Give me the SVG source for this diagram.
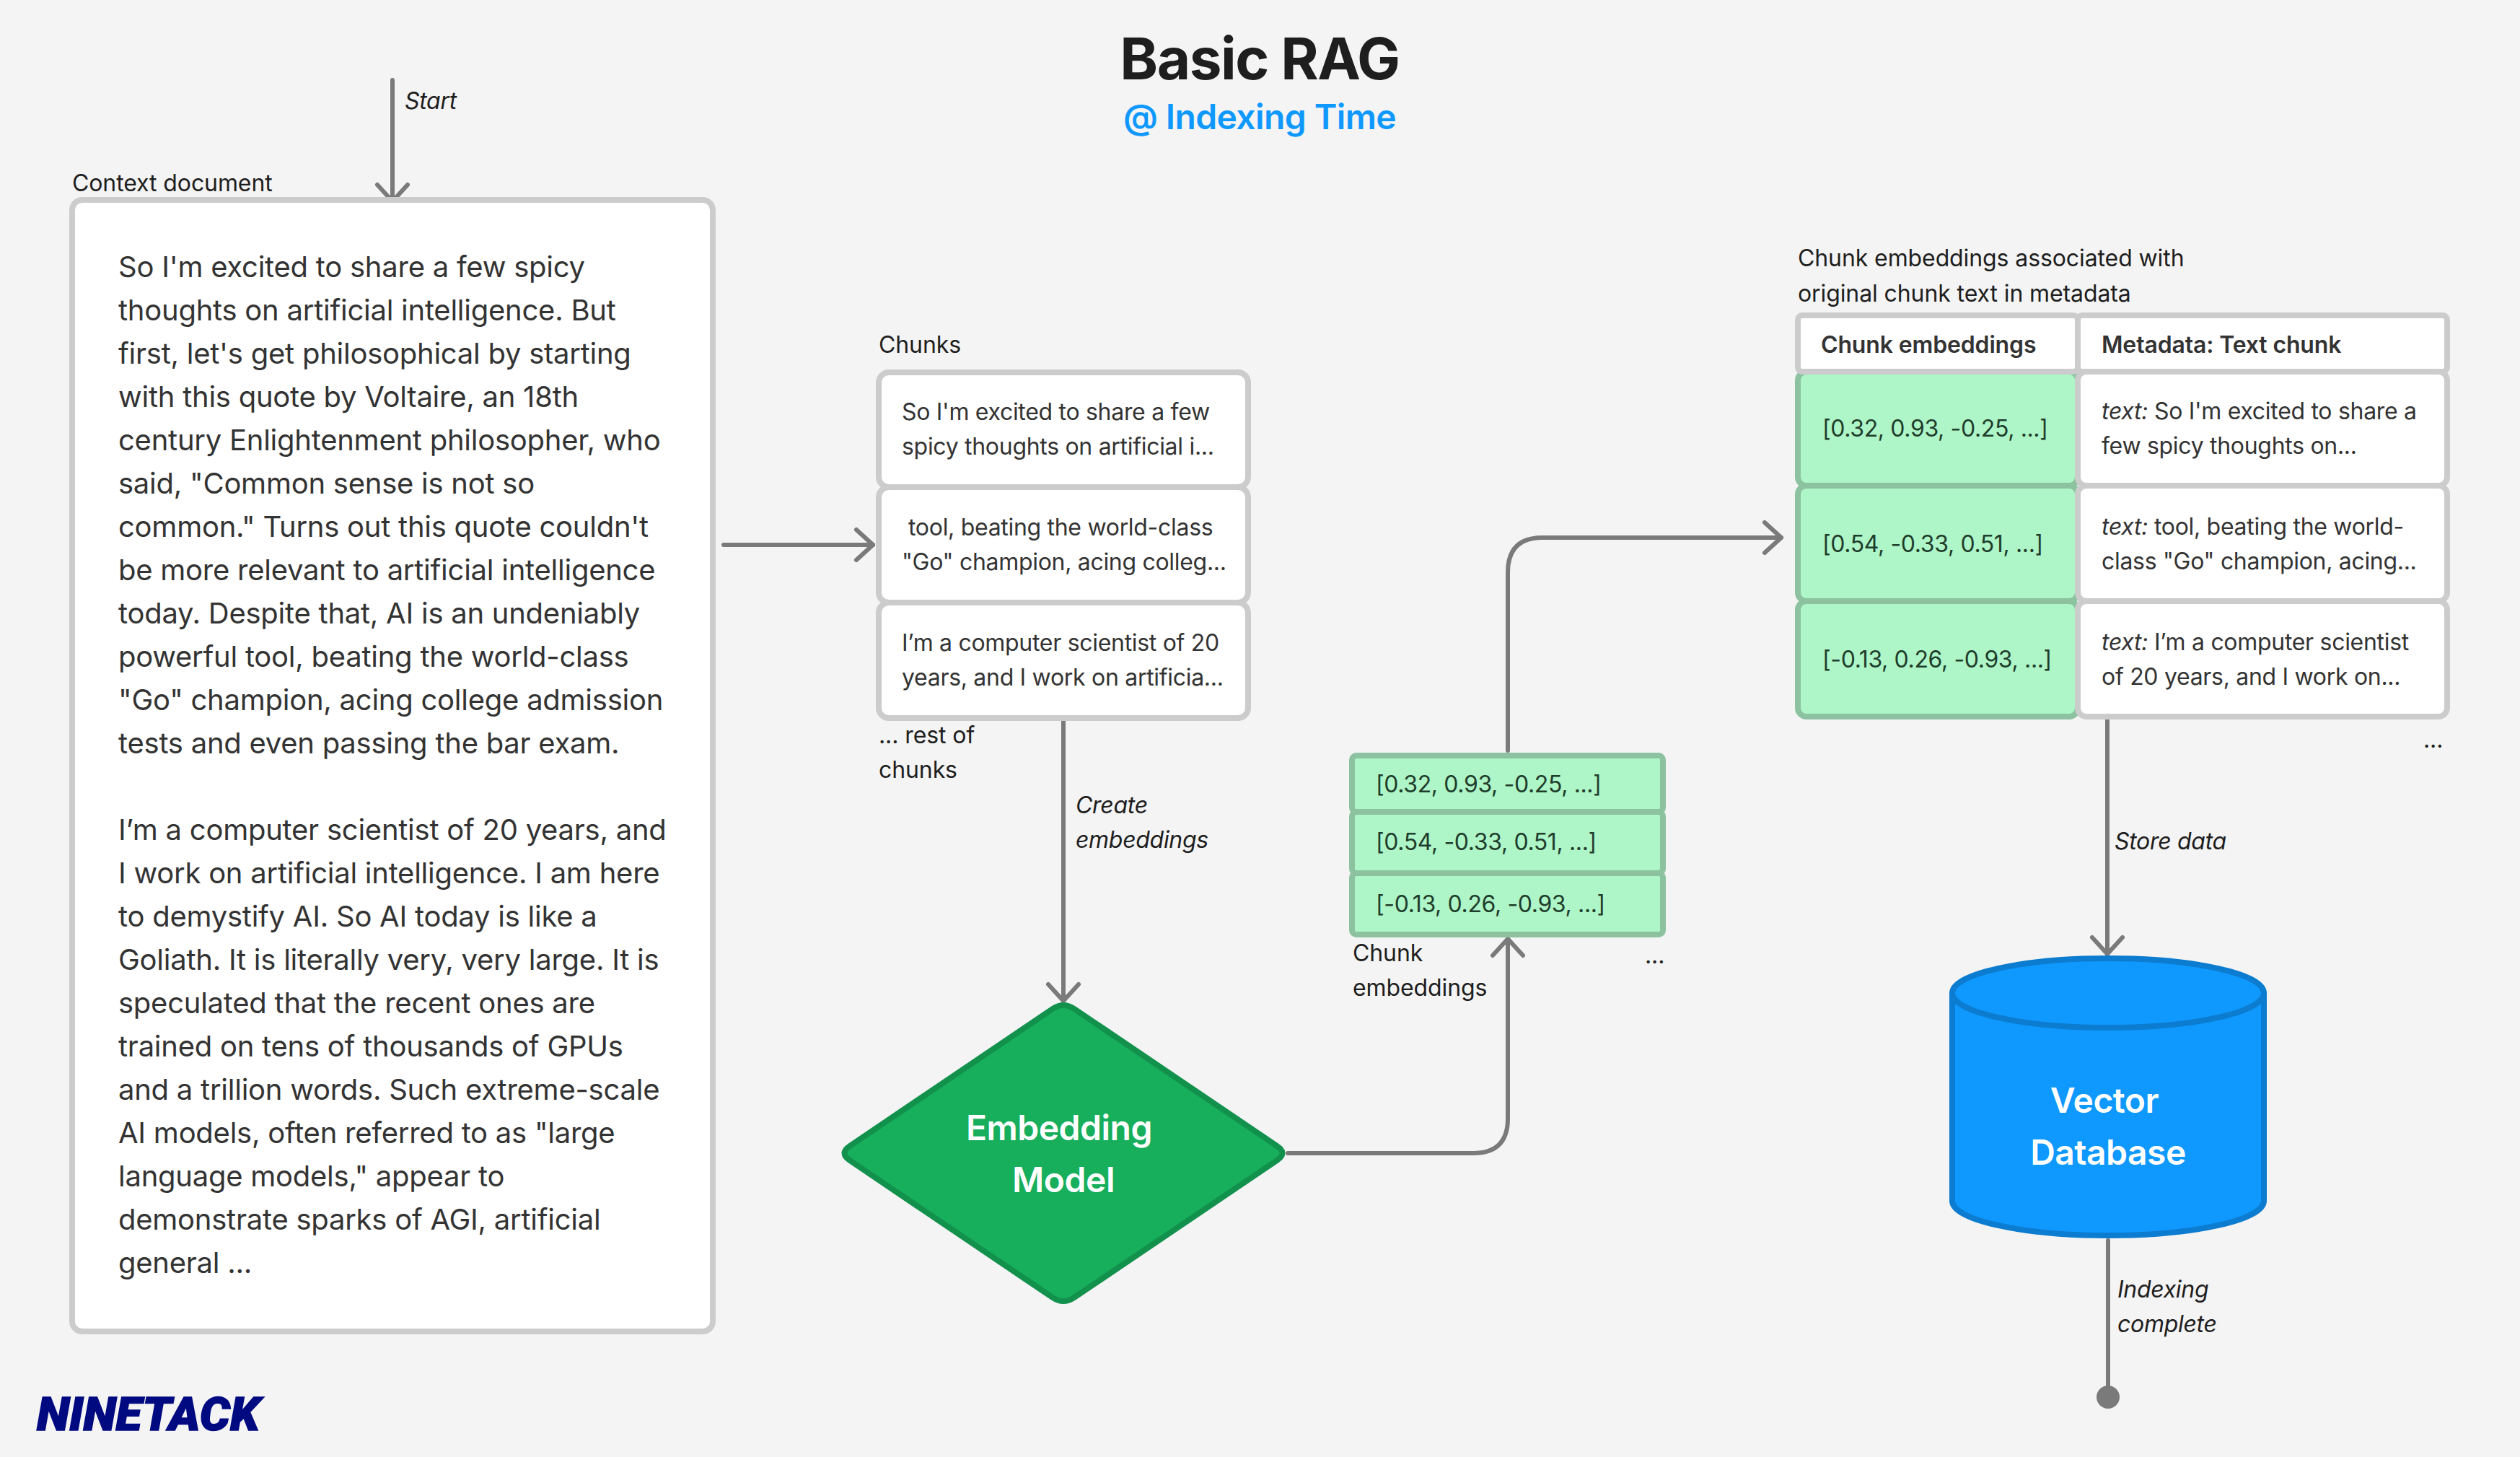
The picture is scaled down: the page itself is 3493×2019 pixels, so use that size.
<svg xmlns="http://www.w3.org/2000/svg" width="3493" height="2019" viewBox="0 0 3493 2019">
<style>
text{font-family:Inter,"Liberation Sans",sans-serif;fill:#1e1e1e}
.l{font-size:32px;letter-spacing:-.1px}
.i{font-size:32px;font-style:italic;letter-spacing:-.3px}
.b{font-size:40px;fill:#333;letter-spacing:-.25px}
.c{font-size:32px;fill:#333;letter-spacing:-.3px}
.h{font-size:32px;font-weight:600;fill:#333;letter-spacing:-.15px}
.g{font-size:32px;fill:#1f3d2b;letter-spacing:-.37px}
.w{font-size:48px;font-weight:600;fill:#fff;text-anchor:middle;letter-spacing:-.5px}
.box{fill:#fff;stroke:#ccc;stroke-width:8}
.grn{fill:#aef5c8;stroke:#8cc29f;stroke-width:8}
.wire{fill:none;stroke:#7a7a7a;stroke-width:6;stroke-linecap:round;stroke-linejoin:round}
</style>
<defs>
<marker id="arrow" markerUnits="userSpaceOnUse" viewBox="-27 -25 31 50" refX="0" refY="0" markerWidth="31" markerHeight="50" orient="auto"><path d="M-23 -21L0 0L-23 21" fill="none" stroke="#7a7a7a" stroke-width="6" stroke-linecap="round" stroke-linejoin="round"/></marker>
</defs>
<rect width="3493" height="2019" fill="#f4f4f4"/>
<g id="title">
<text x="1746" y="110" text-anchor="middle" style="font-size:80px;font-weight:700;letter-spacing:-1.5px">Basic RAG</text>
<text x="1746" y="179" text-anchor="middle" style="font-size:48px;font-weight:600;fill:#0f99ff;letter-spacing:-.6px">@ Indexing Time</text>
</g>
<g id="connectors">
<path class="wire" marker-end="url(#arrow)" d="M544 111V279"/>
<path class="wire" marker-end="url(#arrow)" d="M1003 755H1210"/>
<path class="wire" marker-end="url(#arrow)" d="M1474 1000V1387"/>
<path class="wire" marker-end="url(#arrow)" d="M1785 1598H2042Q2090 1598 2090 1550V1301"/>
<path class="wire" marker-end="url(#arrow)" d="M2090 1040V793Q2090 745 2138 745H2469"/>
<path class="wire" marker-end="url(#arrow)" d="M2921 991V1322"/>
<path class="wire" d="M2922 1719V1925"/>
<circle cx="2922" cy="1936" r="16" fill="#7a7a7a"/>
<text class="i" x="561" y="151">Start</text>
<text class="i" x="1491" y="1127">Create</text>
<text class="i" x="1491" y="1175">embeddings</text>
<text class="i" x="2931" y="1177">Store data</text>
<text class="i" x="2935" y="1798">Indexing</text>
<text class="i" x="2935" y="1846">complete</text>
</g>
<g id="context-document">
<text class="l" x="100" y="265">Context document</text>
<rect class="box" x="100" y="277" width="888" height="1568" rx="14"/>
<text class="b" x="164">
<tspan x="164" y="384">So I'm excited to share a few spicy</tspan>
<tspan x="164" y="444">thoughts on artificial intelligence. But</tspan>
<tspan x="164" y="504">first, let's get philosophical by starting</tspan>
<tspan x="164" y="564">with this quote by Voltaire, an 18th</tspan>
<tspan x="164" y="624">century Enlightenment philosopher, who</tspan>
<tspan x="164" y="684">said, "Common sense is not so</tspan>
<tspan x="164" y="744">common." Turns out this quote couldn't</tspan>
<tspan x="164" y="804">be more relevant to artificial intelligence</tspan>
<tspan x="164" y="864">today. Despite that, AI is an undeniably</tspan>
<tspan x="164" y="924">powerful tool, beating the world-class</tspan>
<tspan x="164" y="984">"Go" champion, acing college admission</tspan>
<tspan x="164" y="1044">tests and even passing the bar exam.</tspan>
<tspan x="164" y="1164">I’m a computer scientist of 20 years, and</tspan>
<tspan x="164" y="1224">I work on artificial intelligence. I am here</tspan>
<tspan x="164" y="1284">to demystify AI. So AI today is like a</tspan>
<tspan x="164" y="1344">Goliath. It is literally very, very large. It is</tspan>
<tspan x="164" y="1404">speculated that the recent ones are</tspan>
<tspan x="164" y="1464">trained on tens of thousands of GPUs</tspan>
<tspan x="164" y="1524">and a trillion words. Such extreme-scale</tspan>
<tspan x="164" y="1584">AI models, often referred to as "large</tspan>
<tspan x="164" y="1644">language models," appear to</tspan>
<tspan x="164" y="1704">demonstrate sparks of AGI, artificial</tspan>
<tspan x="164" y="1764">general ...</tspan>
</text>
</g>
<g id="chunks">
<text class="l" x="1218" y="489">Chunks</text>
<rect class="box" x="1218" y="516" width="512" height="159" rx="14"/>
<text class="c" x="1250" y="582">So I'm excited to share a few</text>
<text class="c" x="1250" y="630">spicy thoughts on artificial i...</text>
<rect class="box" x="1218" y="675" width="512" height="160" rx="14"/>
<text class="c" x="1259" y="742">tool, beating the world-class</text>
<text class="c" x="1250" y="790">"Go" champion, acing colleg...</text>
<rect class="box" x="1218" y="835" width="512" height="160" rx="14"/>
<text class="c" x="1250" y="902">I’m a computer scientist of 20</text>
<text class="c" x="1250" y="950">years, and I work on artificia...</text>
<text class="l" x="1218" y="1030">... rest of</text>
<text class="l" x="1218" y="1078">chunks</text>
</g>
<g id="embedding-model">
<path d="M1459 1398Q1474 1388 1489 1398L1770 1588Q1785 1598 1770 1608L1489 1798Q1474 1808 1459 1798L1178 1608Q1163 1598 1178 1588Z" fill="#17ae5c" stroke="#12914d" stroke-width="8"/>
<text class="w" x="1468" y="1580">Embedding</text>
<text class="w" x="1474" y="1652">Model</text>
</g>
<g id="chunk-embeddings">
<rect class="grn" x="1874" y="1047" width="431" height="78" rx="6"/>
<rect class="grn" x="1874" y="1125" width="431" height="85" rx="6"/>
<rect class="grn" x="1874" y="1210" width="431" height="85" rx="6"/>
<text class="g" x="1907" y="1098">[0.32, 0.93, -0.25, ...]</text>
<text class="g" x="1907" y="1178">[0.54, -0.33, 0.51, ...]</text>
<text class="g" x="1907" y="1264">[-0.13, 0.26, -0.93, ...]</text>
<text class="l" x="1875" y="1332">Chunk</text>
<text class="l" x="1875" y="1380">embeddings</text>
<text class="l" x="2280" y="1335">...</text>
</g>
<g id="table">
<text class="l" x="2492" y="369">Chunk embeddings associated with</text>
<text class="l" x="2492" y="418">original chunk text in metadata</text>
<rect class="grn" x="2492" y="515" width="388" height="158" rx="12"/>
<rect class="grn" x="2492" y="673" width="388" height="160" rx="12"/>
<rect class="grn" x="2492" y="833" width="388" height="160" rx="12"/>
<rect class="box" x="2880" y="515" width="512" height="158" rx="12"/>
<rect class="box" x="2880" y="673" width="512" height="160" rx="12"/>
<rect class="box" x="2880" y="833" width="512" height="160" rx="12"/>
<rect class="box" x="2492" y="437" width="388" height="78" rx="6"/>
<rect class="box" x="2880" y="437" width="512" height="78" rx="6"/>
<text class="h" x="2524" y="489">Chunk embeddings</text>
<text class="h" x="2913" y="489">Metadata: Text chunk</text>
<text class="g" x="2526" y="605">[0.32, 0.93, -0.25, ...]</text>
<text class="g" x="2526" y="765">[0.54, -0.33, 0.51, ...]</text>
<text class="g" x="2526" y="925">[-0.13, 0.26, -0.93, ...]</text>
<text class="c" x="2913" y="581"><tspan font-style="italic">text:</tspan> So I'm excited to share a</text>
<text class="c" x="2913" y="629">few spicy thoughts on...</text>
<text class="c" x="2913" y="741"><tspan font-style="italic">text:</tspan> tool, beating the world-</text>
<text class="c" x="2913" y="789">class "Go" champion, acing...</text>
<text class="c" x="2913" y="901"><tspan font-style="italic">text:</tspan> I’m a computer scientist</text>
<text class="c" x="2913" y="949">of 20 years, and I work on...</text>
<text class="l" x="3359" y="1036">...</text>
</g>
<g id="vector-database">
<path d="M2706 1376V1664A216 48 0 0 0 3138 1664V1376A216 48 0 0 0 2706 1376Z" fill="#0f99ff" stroke="#0c7cd0" stroke-width="8"/>
<path d="M2706 1376A216 48 0 0 0 3138 1376" fill="none" stroke="#0c7cd0" stroke-width="8"/>
<text class="w" x="2917" y="1542">Vector</text>
<text class="w" x="2922" y="1614">Database</text>
</g>
<g id="logo">
<text x="51" y="1982" textLength="309" lengthAdjust="spacingAndGlyphs" style="font-family:Roboto,'Liberation Sans',sans-serif;font-size:65px;font-weight:900;font-style:italic;fill:#000a80;stroke:#000a80;stroke-width:1.5">NINETACK</text>
</g>
</svg>
